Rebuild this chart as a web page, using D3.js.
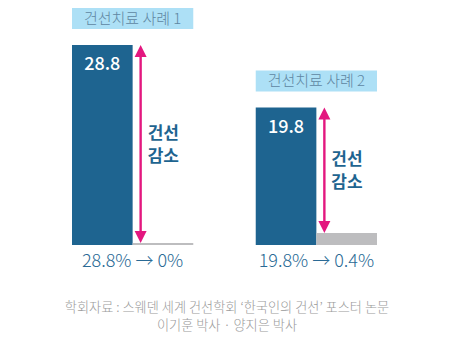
<!DOCTYPE html>
<html><head><meta charset="utf-8">
<script src="https://cdn.jsdelivr.net/npm/d3@7"></script>
<style>body{margin:0;background:#fff}svg{display:block}text{font-family:"Noto Sans CJK KR","Noto Sans",sans-serif}</style>
</head><body>
<script>
const cases = ["건선치료 사례 1", "건선치료 사례 2"];
const beforeValues = [28.8, 19.8];
const afterValues = [0, 0.4];
const changeLabels = ["28.8% → 0%", "19.8% → 0.4%"];
const arrowLabel = ["건선", "감소"];
const footnote = ["학회자료 : 스웨덴 세계 건선학회 ‘한국인의 건선’ 포스터 논문", "이기훈 박사 · 양지은 박사"];

const W = 454, H = 342;
const svg = d3.select("body").append("svg").attr("width", W).attr("height", H);

const x = d3.scaleBand().domain(cases).range([72, 377]).paddingInner(0.34).paddingOuter(0);
const y = d3.scaleLinear().domain([0, 28.8]).range([245, 45]);
const yAfter = d3.scaleLinear().domain([0, 0.4]).range([2, 12]);

const blue = "#1e6490", pink = "#e3177f", gray = "#bdbdbf";

const g = svg.selectAll("g.case").data(cases).join("g").attr("class", "case");

g.each(function(c, i) {
  const sel = d3.select(this);
  const x0 = x(c), bw = x.bandwidth(), half = bw / 2;
  const topB = y(beforeValues[i]);
  // title box
  sel.append("rect").attr("x", x0).attr("y", topB - 37).attr("width", bw).attr("height", 21).attr("fill", "#ade0f6");
  sel.append("text").attr("x", x0 + half).attr("y", topB - 21.5).attr("text-anchor", "middle")
    .attr("font-size", 15).attr("font-weight", 300).attr("fill", "#5f87a2").text(c);
  // before bar
  sel.append("rect").attr("x", x0).attr("y", topB).attr("width", half).attr("height", y(0) - topB).attr("fill", blue);
  sel.append("text").attr("x", x0 + half / 2).attr("y", topB + 25).attr("text-anchor", "middle")
    .attr("font-size", 18).attr("font-weight", 500).attr("fill", "#fff").text(beforeValues[i].toFixed(1));
  // after bar
  const ah = yAfter(afterValues[i]);
  sel.append("rect").attr("x", x0 + half).attr("y", y(0) - ah).attr("width", half).attr("height", ah).attr("fill", gray);
  // arrow
  const ax = x0 + half + 8;
  const aTop = topB, aBot = y(0) - ah;
  sel.append("line").attr("x1", ax).attr("x2", ax).attr("y1", aTop + 8).attr("y2", aBot - 8)
    .attr("stroke", pink).attr("stroke-width", 2.4);
  sel.append("path").attr("d", `M${ax - 6},${aTop + 12}L${ax},${aTop}L${ax + 6},${aTop + 12}Z`).attr("fill", pink);
  sel.append("path").attr("d", `M${ax - 6},${aBot - 12}L${ax},${aBot}L${ax + 6},${aBot - 12}Z`).attr("fill", pink);
  const mid = (aTop + aBot) / 2;
  sel.selectAll("text.al").data(arrowLabel).join("text").attr("class", "al")
    .attr("x", ax + 7).attr("y", (d, k) => mid - 5 + k * 23).attr("font-size", 17).attr("font-weight", 700)
    .attr("fill", blue).text(d => d);
  // change label
  sel.append("text").attr("x", x0 + half).attr("y", 267).attr("text-anchor", "middle")
    .attr("font-size", 18).attr("font-weight", 300).attr("fill", "#2a6a95").text(changeLabels[i]);
});

svg.selectAll("text.fn").data(footnote).join("text").attr("class", "fn")
  .attr("x", 227).attr("y", (d, k) => 312 + k * 17.5).attr("text-anchor", "middle")
  .attr("font-size", 13.2).attr("font-weight", 300).attr("fill", "#9a9a9a").text(d => d);
</script>
</body></html>
